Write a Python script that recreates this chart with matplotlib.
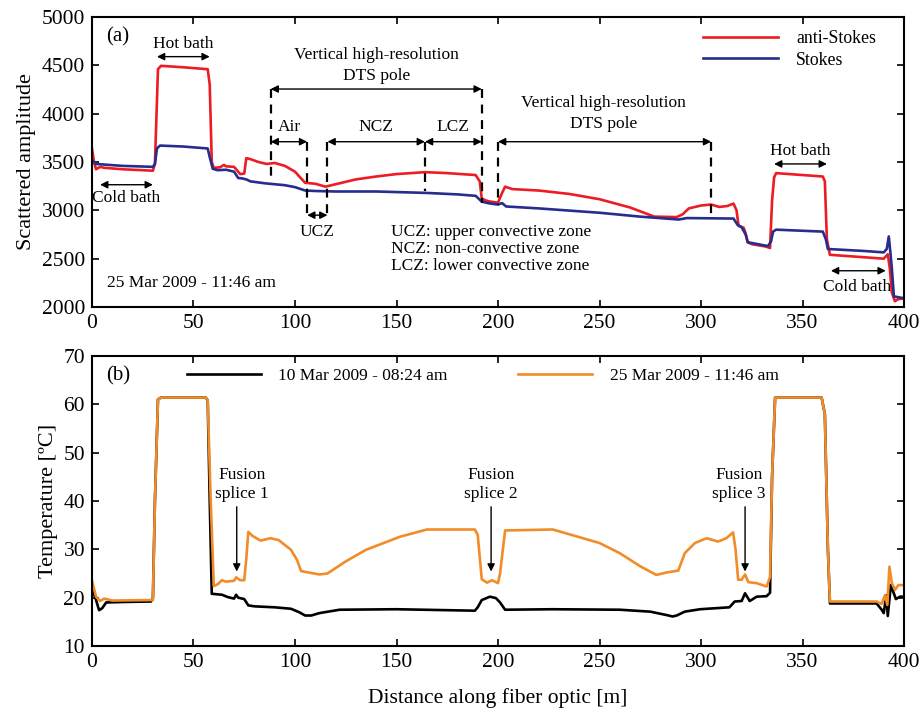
import matplotlib
matplotlib.use("Agg")
import matplotlib.pyplot as plt

plt.rcParams['font.family'] = ['Liberation Serif', 'DejaVu Serif']
plt.rcParams['mathtext.fontset'] = 'stix'

# (a) scattered amplitude, 25 Mar 2009
dist_as = [0, 1, 2, 4, 6, 15, 30, 31, 32.5, 34, 45, 57, 58, 59, 60, 63, 65, 66, 70, 72, 73, 75, 76, 78,
           82, 86, 90, 95, 100, 103, 105, 110, 115, 120, 130, 140, 150, 164, 175, 189, 191, 192, 195,
           198, 200, 202, 203.5, 207, 220, 235, 250, 265, 277, 288, 291, 294, 300, 305, 309, 313, 316,
           317.5, 318.5, 321, 322, 323, 325, 332, 334, 335, 336, 337, 360, 361, 362, 363.5, 380, 390,
           392, 393, 394, 395.5, 397, 400]
anti_stokes = [3640, 3500, 3425, 3450, 3440, 3425, 3410, 3480, 4460, 4495, 4480, 4460, 4300, 3500, 3440,
               3445, 3470, 3455, 3450, 3400, 3375, 3380, 3540, 3530, 3500, 3480, 3490, 3460, 3400, 3330,
               3285, 3275, 3245, 3270, 3320, 3350, 3375, 3395, 3385, 3365, 3300, 3120, 3095, 3085, 3080,
               3180, 3245, 3220, 3205, 3170, 3115, 3030, 2935, 2930, 2960, 3020, 3050, 3060, 3035, 3045,
               3070, 3000, 2840, 2820, 2760, 2670, 2650, 2625, 2610, 3100, 3340, 3385, 3350, 3300, 2700,
               2540, 2515, 2500, 2545, 2400, 2150, 2060, 2080, 2090]

dist_s = [0, 2, 5, 15, 30, 31, 32, 33.5, 45, 57, 58, 59.5, 62, 66, 70, 72, 74, 76, 78, 85, 95, 100, 105,
          110, 120, 140, 165, 180, 189, 192, 195, 198, 200, 202, 204, 220, 250, 270, 289, 293, 316, 318,
          320, 322, 323, 333, 334.5, 335.5, 337, 360, 361.5, 362.5, 380, 390, 391.5, 392.5, 393.3, 394,
          395, 400]
stokes = [3520, 3480, 3475, 3460, 3450, 3480, 3640, 3670, 3660, 3640, 3550, 3430, 3415, 3420, 3400, 3335,
          3330, 3320, 3300, 3280, 3260, 3240, 3205, 3200, 3195, 3195, 3180, 3165, 3150, 3090, 3075, 3065,
          3060, 3075, 3040, 3020, 2975, 2935, 2905, 2920, 2915, 2850, 2825, 2750, 2670, 2630, 2680, 2780,
          2800, 2780, 2700, 2600, 2580, 2565, 2600, 2730, 2560, 2400, 2110, 2090]

# (b) temperature profiles
dist_mar10 = [0, 1.5, 3.5, 5, 7, 15, 29, 30, 31, 32.5, 34, 56, 57, 58, 59, 64, 67, 70, 71, 72, 75, 77, 80,
              90, 98, 102, 105, 108, 112, 122, 150, 188.6, 190, 192, 196, 199, 201, 203.5, 227, 260, 275,
              283, 286, 288, 292, 299.5, 314, 316.6, 320, 321.7, 324, 327.4, 332.3, 334, 335, 336.5, 359.4,
              361, 362.5, 363.5, 386.5, 389, 390, 391.3, 392, 393.5, 396, 398, 400]
temp_mar10 = [21.5, 20.2, 17.4, 17.8, 19.0, 19.1, 19.2, 19.8, 40, 61.0, 61.4, 61.4, 60.8, 40, 20.8, 20.6,
              20.1, 19.8, 20.6, 20.0, 19.7, 18.4, 18.2, 18.0, 17.7, 17.0, 16.3, 16.3, 16.8, 17.5, 17.6,
              17.3, 18.0, 19.5, 20.2, 19.9, 19.0, 17.5, 17.6, 17.5, 17.1, 16.4, 16.1, 16.3, 17.1, 17.6,
              18.0, 19.2, 19.3, 20.9, 19.3, 20.2, 20.3, 21.0, 45, 61.4, 61.4, 58, 30, 18.8, 18.8, 17.5,
              16.8, 20.5, 16.2, 22.6, 19.7, 20.2, 20.2]

dist_mar25 = [0, 2, 4, 6, 10, 30, 31, 32.5, 34, 56, 57, 58.5, 60, 62, 64, 66, 70, 71, 73, 75, 76, 77, 79,
              83, 88, 92, 98, 101, 103, 108, 112, 116, 125, 135, 151.7, 165, 188.6, 190, 192, 194.6, 197,
              200, 201, 203.5, 227, 250, 260, 270, 278, 283, 288.8, 292, 297, 302.8, 308.4, 312.5, 315.8,
              317, 318.3, 320, 321.7, 323.3, 327.4, 332.3, 334, 335, 336.5, 359.4, 361, 362.5, 363.5,
              386.5, 389, 390.6, 391.8, 392.8, 394, 395.6, 397.2, 400]
temp_mar25 = [23.5, 20.2, 19.3, 19.8, 19.4, 19.5, 40, 61.0, 61.4, 61.4, 60.8, 40, 22.4, 22.8, 23.6, 23.3,
              23.5, 24.2, 23.6, 23.6, 28, 33.6, 32.8, 31.8, 32.3, 31.9, 29.9, 27.8, 25.5, 25.1, 24.8, 25.0,
              27.5, 29.9, 32.6, 34.1, 34.1, 33, 23.8, 23.1, 23.6, 23.0, 25, 33.9, 34.1, 31.3, 29.2, 26.5,
              24.7, 25.2, 25.6, 29.2, 31.3, 32.3, 31.6, 32.3, 33.5, 30, 23.7, 23.7, 24.8, 23.2, 23.0, 22.3,
              24.3, 45, 61.4, 61.4, 58, 30, 19.2, 19.2, 18.7, 20.5, 18.5, 26.4, 23, 21.6, 22.6, 22.6]

x_ticks = [0, 50, 100, 150, 200, 250, 300, 350, 400]

RED = '#ed1c24'
BLUE = '#262d8c'
ORANGE = '#f28c28'

fig = plt.figure(figsize=(9.19, 7.09), dpi=100)
ax1 = fig.add_axes([0.1001, 0.567, 0.8836, 0.409])
ax2 = fig.add_axes([0.1001, 0.0889, 0.8836, 0.409])


def style_axis(ax):
    ax.tick_params(direction='in', top=True, right=True, labelsize=15.5, length=5, width=1.2, pad=5)
    for sp in ax.spines.values():
        sp.set_linewidth(1.5)
    ax.set_xlim(0, 400)
    ax.set_xticks(x_ticks)


def dbl_arrow(ax, x0, x1, y):
    ax.annotate('', xy=(x0, y), xytext=(x1, y),
                arrowprops=dict(arrowstyle='<|-|>', color='black', lw=1.0,
                                mutation_scale=11, shrinkA=0, shrinkB=0))


def vdash(ax, x, y0, y1):
    ax.plot([x, x], [y0, y1], color='black', lw=1.6, ls=(0, (4, 3)))


fs = 12.5

# ---- panel (a)
ax1.plot(dist_as, anti_stokes, color=RED, lw=1.9, label='anti-Stokes')
ax1.plot(dist_s, stokes, color=BLUE, lw=1.9, label='Stokes')
style_axis(ax1)
ax1.set_ylim(2000, 5000)
ax1.set_yticks([2000, 2500, 3000, 3500, 4000, 4500, 5000])
ax1.set_ylabel('Scattered amplitude', fontsize=16)
ax1.legend(loc='upper right', bbox_to_anchor=(0.974, 0.979), frameon=False, fontsize=12.8,
           handlelength=4.25, handletextpad=1.0, borderaxespad=0.0, labelspacing=0.25)
ax1.text(0.018, 0.965, '(a)', transform=ax1.transAxes, fontsize=15, va='top')

dbl_arrow(ax1, 32, 58, 4590)
ax1.text(45, 4720, 'Hot bath', ha='center', va='center', fontsize=fs)
dbl_arrow(ax1, 4, 30, 3265)
ax1.text(17, 3125, 'Cold bath', ha='center', va='center', fontsize=fs)

ax1.text(140, 4500, 'Vertical high-resolution\nDTS pole', ha='center', va='center',
         fontsize=fs, linespacing=1.4)
dbl_arrow(ax1, 88, 192, 4255)
vdash(ax1, 88, 4255, 3290)
vdash(ax1, 192, 4255, 3080)
dbl_arrow(ax1, 88, 106, 3710)
ax1.text(97, 3860, 'Air', ha='center', va='center', fontsize=fs)
vdash(ax1, 106, 3710, 2950)
vdash(ax1, 116, 3710, 2950)
dbl_arrow(ax1, 106, 116, 2950)
ax1.text(111, 2775, 'UCZ', ha='center', va='center', fontsize=fs)
dbl_arrow(ax1, 116, 164, 3710)
ax1.text(140, 3860, 'NCZ', ha='center', va='center', fontsize=fs)
vdash(ax1, 164, 3710, 3200)
dbl_arrow(ax1, 164, 192, 3710)
ax1.text(178, 3860, 'LCZ', ha='center', va='center', fontsize=fs)

ax1.text(252, 4000, 'Vertical high-resolution\nDTS pole', ha='center', va='center',
         fontsize=fs, linespacing=1.4)
dbl_arrow(ax1, 200, 305, 3710)
vdash(ax1, 200, 3710, 3060)
vdash(ax1, 305, 3710, 2950)

dbl_arrow(ax1, 336, 362, 3480)
ax1.text(349, 3615, 'Hot bath', ha='center', va='center', fontsize=fs)
dbl_arrow(ax1, 364, 391, 2375)
ax1.text(377, 2205, 'Cold bath', ha='center', va='center', fontsize=fs)

ax1.text(147.5, 2600, 'UCZ: upper convective zone\nNCZ: non-convective zone\nLCZ: lower convective zone',
         ha='left', va='center', fontsize=fs, linespacing=1.12)
ax1.text(7.5, 2250, '25 Mar 2009 - 11:46 am', ha='left', va='center', fontsize=fs)

# ---- panel (b)
ax2.plot(dist_mar10, temp_mar10, color='black', lw=1.9, label='10 Mar 2009 - 08:24 am')
ax2.plot(dist_mar25, temp_mar25, color=ORANGE, lw=1.9, label='25 Mar 2009 - 11:46 am')
style_axis(ax2)
ax2.set_ylim(10, 70)
ax2.set_yticks([10, 20, 30, 40, 50, 60, 70])
ax2.set_ylabel('Temperature [ºC]', fontsize=16)
ax2.set_xlabel('Distance along fiber optic [m]', fontsize=15.5, labelpad=12)
ax2.legend(loc='upper center', bbox_to_anchor=(0.481, 1.0), ncol=2, frameon=False, fontsize=12.5,
           handlelength=4.25, handletextpad=1.0, columnspacing=4.1, borderaxespad=0.3)
ax2.text(0.018, 0.965, '(b)', transform=ax2.transAxes, fontsize=15, va='top')

for xs, xt, lbl in [(71.3, 74, 'Fusion\nsplice 1'), (196.6, 196.5, 'Fusion\nsplice 2'),
                    (321.7, 318.7, 'Fusion\nsplice 3')]:
    ax2.text(xt, 43.5, lbl, ha='center', va='center', fontsize=fs, linespacing=1.25)
    ax2.annotate('', xy=(xs, 25.4), xytext=(xs, 38.8),
                 arrowprops=dict(arrowstyle='-|>', color='black', lw=1.0,
                                 mutation_scale=11, shrinkA=0, shrinkB=0))

fig.savefig('out.png', dpi=100)
